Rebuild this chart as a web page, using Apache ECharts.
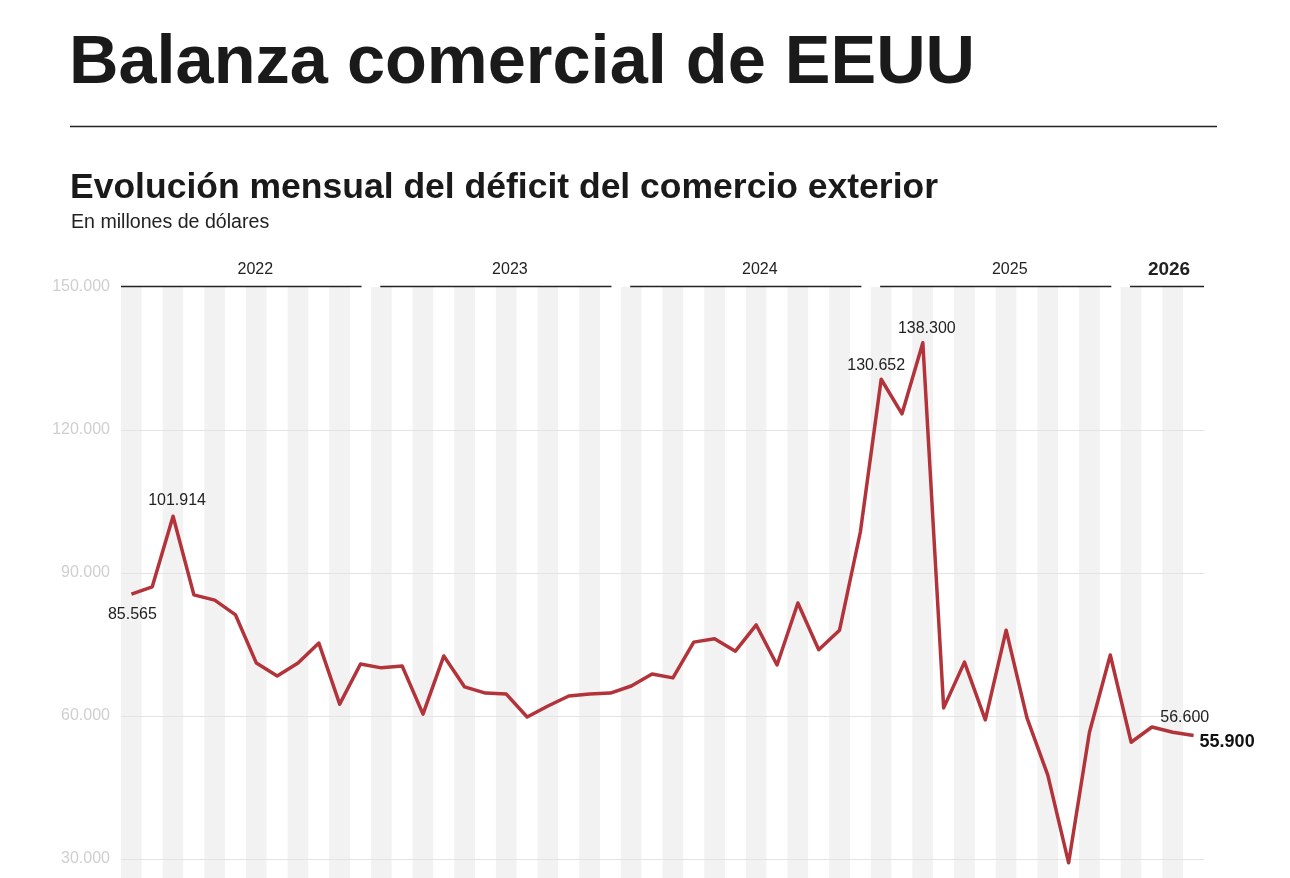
<!DOCTYPE html>
<html>
<head>
<meta charset="utf-8">
<title>Balanza comercial de EEUU</title>
<script src="https://cdn.jsdelivr.net/npm/echarts@6/dist/echarts.min.js"></script>
<style>
    html, body { margin: 0; padding: 0; background: #fff; overflow: hidden; }
    /* el gráfico sigue por debajo del borde de la ventana, como en el original */
    #chart { width: 1290px; height: 1010px; }
</style>
</head>
<body>
<div id="chart"></div>
<script>
    // meses de ene-2022 a abr-2026
    const years = ['2022', '2023', '2024', '2025', '2026'];
    const months = [];
    years.forEach(function (y) {
        for (let m = 1; m <= 12; m++) {
            if (y === '2026' && m > 4) break;
            months.push(y + '-' + (m < 10 ? '0' + m : m));
        }
    });

    // déficit en millones de dólares
    const deficit2022 = [85565, 87100, 101914, 85400, 84300, 81200, 71100, 68400, 71100, 75300, 62500, 70900];
    const deficit2023 = [70100, 70500, 60400, 72600, 66100, 64800, 64600, 59800, 62100, 64200, 64600, 64800];
    const deficit2024 = [66300, 68800, 68000, 75500, 76200, 73600, 79100, 70700, 83700, 73900, 78000, 98600];
    const deficit2025 = [130652, 123400, 138300, 61700, 71300, 59200, 78000, 59600, 47600, 29200, 56600, 72800];
    const deficit2026 = [54500, 57700, 56600, 55900];
    const deficit = [].concat(deficit2022, deficit2023, deficit2024, deficit2025, deficit2026);

    const yTicks = [0, 30000, 60000, 90000, 120000, 150000];

    const FONT = '"Liberation Sans", Arial, Helvetica, sans-serif';

    function fmt(v) {
        return String(Math.round(v)).replace(/\B(?=(\d{3})+(?!\d))/g, '.');
    }

    // desplaza la etiqueta con padding (dx en px)
    function shift(dx) {
        return [0, Math.max(0, -2 * dx), 0, Math.max(0, 2 * dx)];
    }

    // puntos con etiqueta
    const labelled = {
        0: { position: 'bottom', distance: 12, padding: shift(1) },
        2: { position: 'top', distance: 8, padding: shift(4) },
        36: { position: 'top', distance: 6, padding: shift(-5) },
        38: { position: 'top', distance: 6, padding: shift(4) },
        50: { position: 'top', distance: 7, padding: shift(12) },
        51: { position: [6, 6], align: 'left', verticalAlign: 'middle', fontWeight: 'bold', fontSize: 18, color: '#111' }
    };

    const lineData = deficit.map(function (v, i) {
        const l = labelled[i];
        if (!l) return v;
        return {
            value: v,
            label: Object.assign({
                show: true,
                formatter: function (p) { return fmt(p.value); },
                fontFamily: FONT,
                fontSize: 16,
                color: '#222'
            }, l)
        };
    });

    // tramos de año sobre un eje de valor 0..n
    const yearSpans = years.map(function (y, k) {
        return [k * 12, Math.min(k * 12 + 12, months.length)];
    });

    const option = {
        animation: false,
        backgroundColor: '#fff',
        graphic: [
            {
                type: 'text', left: 69, top: 30,
                style: { text: 'Balanza comercial de EEUU', font: 'bold 68.5px ' + FONT, fill: '#1a1a1a' }
            },
            {
                type: 'line', shape: { x1: 70, y1: 126.5, x2: 1217, y2: 126.5 },
                style: { stroke: '#222', lineWidth: 1.5 }
            },
            {
                type: 'text', left: 70, top: 170,
                style: { text: 'Evolución mensual del déficit del comercio exterior', font: 'bold 35.5px ' + FONT, fill: '#1a1a1a' }
            },
            {
                type: 'text', left: 71, top: 213,
                style: { text: 'En millones de dólares', font: '19.6px ' + FONT, fill: '#222' }
            }
        ],
        grid: { left: 121, top: 287, width: 1083, height: 715 },
        xAxis: [
            {
                type: 'category',
                data: months,
                boundaryGap: true,
                axisLine: { show: false },
                axisTick: { show: false },
                axisLabel: { show: false },
                splitLine: { show: false },
                splitArea: { show: true, interval: 0, areaStyle: { color: ['#f2f2f2', '#ffffff'] } }
            },
            {
                type: 'value', min: 0, max: months.length, show: false
            }
        ],
        yAxis: {
            type: 'value',
            z: 1,
            min: yTicks[0],
            max: yTicks[yTicks.length - 1],
            interval: 30000,
            axisLine: { show: false },
            axisTick: { show: false },
            axisLabel: {
                margin: 11,
                padding: [3, 0, 0, 0],
                color: '#cfcfcf',
                fontSize: 16,
                fontFamily: FONT,
                formatter: fmt
            },
            splitLine: {
                lineStyle: { color: ['#e3e3e3', '#e3e3e3', '#e3e3e3', '#e3e3e3', '#e3e3e3', 'rgba(0,0,0,0)'], width: 1 }
            }
        },
        series: [
            {
                type: 'custom',
                xAxisIndex: 1,
                yAxisIndex: 0,
                clip: false,
                silent: true,
                data: yearSpans,
                encode: { x: [0, 1] },
                renderItem: function (params, api) {
                    const s = api.value(0), e = api.value(1);
                    const x0 = s === 0 ? s : s + 0.45;
                    const x1 = e >= months.length ? e : e - 0.45;
                    const p0 = api.coord([x0, 150000]);
                    const p1 = api.coord([x1, 150000]);
                    const last = params.dataIndex === years.length - 1;
                    return {
                        type: 'group',
                        children: [
                            {
                                type: 'line',
                                shape: { x1: p0[0], y1: p0[1] - 0.5, x2: p1[0], y2: p1[1] - 0.5 },
                                style: { stroke: '#222', lineWidth: 1.3 }
                            },
                            {
                                type: 'text',
                                x: (p0[0] + p1[0]) / 2 + (last ? 2 : 14),
                                y: p0[1] - 17,
                                style: {
                                    text: years[params.dataIndex],
                                    fontFamily: FONT,
                                    fontSize: last ? 19 : 16,
                                    fontWeight: last ? 'bold' : 'normal',
                                    fill: '#222',
                                    align: 'center',
                                    verticalAlign: 'middle'
                                }
                            }
                        ]
                    };
                }
            },
            {
                type: 'line',
                data: lineData,
                symbol: 'circle',
                symbolSize: 0,
                showSymbol: true,
                lineStyle: { color: '#b3333b', width: 3.5, join: 'round' },
                itemStyle: { color: '#b3333b' },
                labelLayout: { hideOverlap: false },
                z: 5
            }
        ]
    };

    const mychart = echarts.init(document.getElementById('chart'));
    mychart.setOption(option);
</script>
</body>
</html>
